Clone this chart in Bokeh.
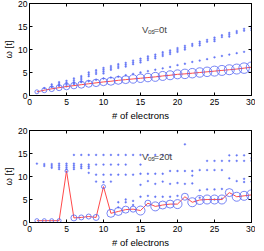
from bokeh.plotting import figure
from bokeh.layouts import column
from bokeh.models import Range1d, LinearAxis, FixedTicker, Label, CustomJSTickFormatter
from bokeh.embed import file_html
from bokeh.resources import INLINE

# ---------------- data ----------------
electrons = list(range(1, 31))

# panel (a): V_os = 0t
lowest_a = [0.8, 1.15, 1.45, 1.7, 1.95, 2.15, 2.35, 2.55, 2.75, 2.95,
            3.1, 3.3, 3.45, 3.6, 3.75, 3.9, 4.05, 4.25, 4.4, 4.6,
            4.7, 4.85, 5.0, 5.15, 5.3, 5.45, 5.6, 5.75, 5.95, 6.15]
weight_a = [4, 5, 5.5, 6, 6.5, 6.5, 7, 7, 7.5, 7.5,
            8, 8, 8, 8.5, 8.5, 8.5, 9, 9, 9, 9,
            9.5, 9.5, 9.5, 9.5, 10, 10, 10, 10, 10.5, 10.5]
dots_a_n = [2,
            3, 3, 3,
            4, 4, 4, 4,
            5, 5, 5, 5,
            6, 6, 6, 6, 6,
            7, 7, 7, 7, 7,
            8, 8, 8, 8,
            9, 9, 9, 9,
            10, 10, 10, 10, 10,
            11, 11, 11, 11,
            12, 12, 12, 12,
            13, 13, 13, 13,
            14, 14, 14, 14,
            15, 15, 15, 15,
            16, 16, 16, 16,
            17, 17, 17, 17,
            18, 18, 18, 18,
            19, 19, 19, 19,
            20, 20, 20, 20,
            21, 21, 21, 21,
            22, 22, 22,
            23, 23, 23, 23,
            24, 24, 24,
            25, 25, 25, 25,
            26, 26, 26,
            27, 27, 27, 27,
            28, 28, 28,
            29, 29, 29,
            30, 30, 30, 30]
dots_a_w = [1.6,
            2.4, 2.0, 1.8,
            2.9, 2.5, 2.1, 2.2,
            3.2, 2.8, 2.4, 2.0,
            3.7, 3.3, 2.9, 2.5, 2.6,
            4.2, 3.8, 3.4, 3.0, 2.9,
            5.0, 4.6, 4.2, 3.1,
            5.5, 5.1, 4.7, 3.4,
            6.0, 5.6, 5.2, 4.8, 3.7,
            6.4, 6.0, 5.6, 3.9,
            6.8, 6.4, 6.0, 4.1,
            7.1, 6.7, 6.3, 4.4,
            7.6, 7.2, 6.8, 4.7,
            8.0, 7.6, 7.2, 5.0,
            8.5, 8.1, 7.7, 5.3,
            8.9, 8.5, 8.1, 5.6,
            9.4, 9.0, 8.6, 5.9,
            9.8, 9.4, 9.0, 6.2,
            10.3, 9.9, 9.5, 6.6,
            10.8, 10.4, 10.0, 6.9,
            11.2, 10.8, 7.3,
            11.7, 11.3, 10.9, 7.6,
            12.1, 11.7, 7.9,
            12.6, 12.2, 11.8, 8.3,
            13.1, 12.7, 8.6,
            13.6, 13.2, 12.8, 8.9,
            14.0, 13.6, 9.2,
            14.5, 14.1, 9.5,
            15.0, 14.6, 14.2, 9.8]

# panel (b): V_os = 20t
lowest_b = [0.4, 0.4, 0.4, 0.4, 11.2, 1.0, 1.1, 1.3, 1.1, 7.8,
            2.0, 2.4, 2.8, 2.9, 2.6, 4.2, 3.5, 3.8, 4.0, 4.0,
            5.6, 4.4, 4.9, 5.0, 5.0, 5.0, 6.5, 5.6, 5.8, 6.0]
weight_b = [4, 4, 4, 4, 3, 6, 5, 5, 6, 4,
            8, 8, 7, 6, 9, 6, 9, 8, 8, 9,
            7, 9, 9, 9, 9, 9, 8, 9, 9, 10]
dots_b_n = [1,
            2, 2,
            3, 3, 3,
            4, 4, 4, 4,
            5, 5, 5, 5,
            6, 6, 6, 6, 6,
            7, 7, 7, 7,
            8, 8, 8, 8, 8,
            9, 9, 9, 9,
            10, 10, 10, 10,
            11, 11, 11, 11,
            12, 12, 12, 12, 12,
            13, 13, 13, 13, 13,
            14, 14, 14, 14,
            15, 15, 15, 15, 15,
            16, 16, 16, 16,
            17, 17, 17, 17,
            18, 18, 18, 18,
            19, 19, 19, 19,
            20, 20, 20,
            21, 21, 21,
            22, 22, 22,
            23, 23, 23,
            24, 24, 24,
            25, 25, 25, 25,
            26, 26, 26, 26,
            27, 27, 27,
            28, 28, 28,
            29, 29, 29, 29,
            30, 30, 30, 30]
dots_b_w = [12.8,
            12.7, 12.3,
            12.7, 12.3, 11.9,
            12.8, 12.4, 12.0, 11.6,
            12.8, 12.4, 12.0, 11.6,
            14.7, 12.8, 12.4, 12.0, 11.6,
            14.7, 12.6, 12.2, 11.8,
            14.7, 12.6, 12.2, 11.8, 10.8,
            14.7, 12.6, 10.4, 8.9,
            14.7, 12.6, 10.4, 8.8,
            14.7, 12.6, 10.4, 8.9,
            14.7, 12.6, 10.4, 4.4, 3.3,
            14.7, 12.6, 10.4, 5.0, 4.4,
            14.7, 10.4, 4.7, 3.8,
            14.7, 12.6, 10.6, 8.2, 5.6,
            14.7, 10.6, 9.0, 5.8,
            14.7, 10.6, 8.4, 5.6,
            14.7, 10.6, 8.9, 5.6,
            14.7, 11.2, 8.4, 5.6,
            11.2, 8.6, 5.8,
            17.0, 11.2, 8.4,
            11.2, 10.2, 8.5,
            11.4, 7.0, 5.4,
            13.4, 11.4, 7.2,
            13.4, 11.4, 7.2, 5.0,
            13.4, 11.4, 7.3, 5.2,
            14.6, 13.4, 9.6,
            14.6, 13.4, 9.0,
            14.6, 13.4, 9.5, 8.8,
            15.0, 14.0, 13.4, 8.9]

x_ticks = [0, 5, 10, 15, 20, 25, 30]
y_ticks = [0, 5, 10, 15, 20]

FONT = "Liberation Sans"
BLUE = "#5566f2"
DOT = "#6677f5"
RED = "#ff4a4a"


def style_axis(ax, labels=True):
    ax.major_tick_in = 3
    ax.major_tick_out = 0
    ax.minor_tick_line_color = None
    ax.axis_line_color = "black"
    ax.major_tick_line_color = "black"
    ax.major_label_text_font = FONT
    ax.major_label_text_font_size = "8.5px"
    ax.major_label_text_color = "black"
    ax.axis_label_text_font = FONT
    ax.axis_label_text_font_size = "9.5px"
    ax.axis_label_text_font_style = "normal"
    ax.axis_label_text_color = "black"
    if not labels:
        ax.formatter = CustomJSTickFormatter(code="return ''")
        ax.major_label_standoff = 0
        ax.major_label_text_font_size = "1px"


def panel(lowest, weight, dn, dw, tag, vos, top):
    p = figure(frame_width=222, frame_height=92,
               x_range=Range1d(0, 30), y_range=Range1d(0, 20),
               output_backend="svg", toolbar_location=None,
               min_border_left=0, min_border_right=4,
               min_border_top=top, min_border_bottom=0)
    p.grid.visible = False
    p.outline_line_color = "black"
    p.background_fill_color = "white"
    p.border_fill_color = "white"

    p.xaxis.ticker = FixedTicker(ticks=x_ticks)
    p.yaxis.ticker = FixedTicker(ticks=y_ticks)
    p.xaxis.axis_label = "# of electrons"
    p.yaxis.axis_label = "ω [t]"
    for ax in p.xaxis + p.yaxis:
        style_axis(ax)
    p.xaxis.major_label_standoff = 3
    p.xaxis.axis_label_standoff = 2
    p.yaxis.major_label_standoff = 2
    p.yaxis.axis_label_standoff = 1

    top_ax = LinearAxis(ticker=FixedTicker(ticks=x_ticks))
    right_ax = LinearAxis(ticker=FixedTicker(ticks=y_ticks))
    style_axis(top_ax, labels=False)
    style_axis(right_ax, labels=False)
    p.add_layout(top_ax, "above")
    p.add_layout(right_ax, "right")

    p.scatter(dn, dw, marker="circle", size=1.8,
              line_color=DOT, fill_color=DOT, line_width=0.4)
    p.line(electrons, lowest, line_color=RED, line_width=1.0)
    p.scatter(electrons, lowest, marker="circle", size=weight,
              line_color=BLUE, fill_color=None, line_width=0.8)

    p.add_layout(Label(x=15.2, y=14.35, text="V", text_font=FONT,
                       text_font_size="9.5px", text_baseline="alphabetic"))
    p.add_layout(Label(x=16.0, y=13.95, text="os", text_font=FONT,
                       text_font_size="6.5px", text_baseline="alphabetic"))
    p.add_layout(Label(x=16.75, y=14.35, text=vos, text_font=FONT,
                       text_font_size="9.5px", text_baseline="alphabetic"))
    p.add_layout(Label(x=1.1, y=-3.1, text=tag, text_font=FONT,
                       text_font_size="8.5px", text_baseline="middle"))
    return p


pa = panel(lowest_a, weight_a, dots_a_n, dots_a_w, "(a)", "=0t", 3)
pb = panel(lowest_b, weight_b, dots_b_n, dots_b_w, "(b)", "=20t", 7)

layout = column(pa, pb, spacing=0)

open("out.html", "w").write(file_html(layout, INLINE))
